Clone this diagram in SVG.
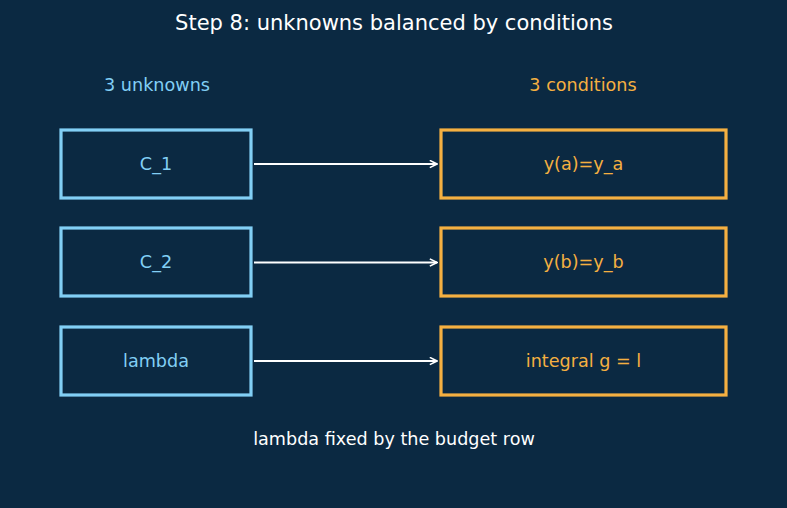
<svg xmlns="http://www.w3.org/2000/svg" width="787" height="508" viewBox="0 0 787 508">
<style>
text{font-family:"DejaVu Sans",sans-serif;text-anchor:middle}
.t{font-size:21px;fill:#ffffff}
.h{font-size:17.6px}
.u{fill:#82cff5}
.c{fill:#f5b041}
.ub{fill:none;stroke:#82cff5;stroke-width:3.2}
.cb{fill:none;stroke:#f5b041;stroke-width:3.2}
.lbl{font-size:17.6px;dominant-baseline:central}
.a{stroke:#ffffff;stroke-width:2;fill:none;marker-end:url(#ah)}
</style>
<defs>
<marker id="ah" viewBox="0 0 10 10" refX="9" refY="5" markerWidth="9" markerHeight="9" markerUnits="userSpaceOnUse" orient="auto">
<path d="M1,1 L9,5 L1,9" fill="none" stroke="#ffffff" stroke-width="1.8"/>
</marker>
</defs>
<rect width="787" height="508" fill="#0b2942"/>
<text class="t" x="394" y="30">Step 8: unknowns balanced by conditions</text>
<text class="h u" x="157" y="91">3 unknowns</text>
<text class="h c" x="583" y="91">3 conditions</text>
<g id="n_c1"><rect class="ub" x="61" y="130" width="190" height="68"/><text class="lbl u" x="156" y="164">C_1</text></g>
<g id="n_c2"><rect class="ub" x="61" y="228" width="190" height="68"/><text class="lbl u" x="156" y="262">C_2</text></g>
<g id="n_lambda"><rect class="ub" x="61" y="327" width="190" height="68"/><text class="lbl u" x="156" y="361">lambda</text></g>
<g id="n_ya"><rect class="cb" x="441" y="130" width="285" height="68"/><text class="lbl c" x="583.5" y="164">y(a)=y_a</text></g>
<g id="n_yb"><rect class="cb" x="441" y="228" width="285" height="68"/><text class="lbl c" x="583.5" y="262">y(b)=y_b</text></g>
<g id="n_int"><rect class="cb" x="441" y="327" width="285" height="68"/><text class="lbl c" x="583.5" y="361">integral g = l</text></g>
<g id="connectors">
<line class="a" x1="254" y1="164" x2="437" y2="164"/>
<line class="a" x1="254" y1="262.5" x2="437" y2="262.5"/>
<line class="a" x1="254" y1="361" x2="437" y2="361"/>
</g>
<text class="h" x="394" y="445" fill="#ffffff">lambda fixed by the budget row</text>
</svg>
